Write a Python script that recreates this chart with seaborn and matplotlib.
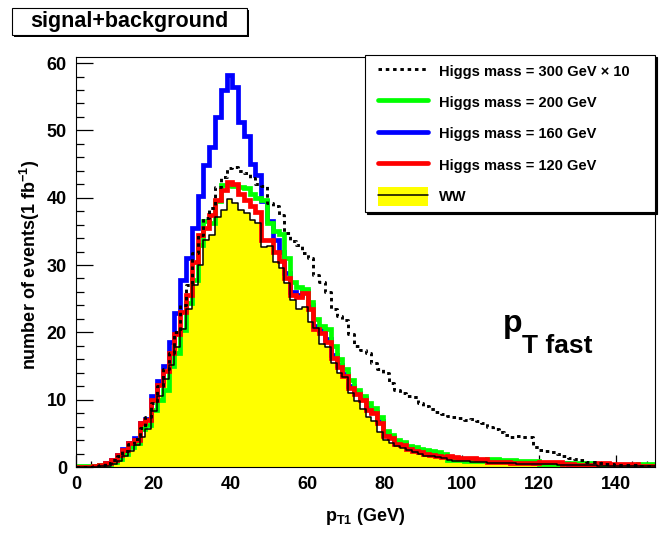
import numpy as np
import pandas as pd
import matplotlib
matplotlib.use('Agg')
import matplotlib.pyplot as plt
import seaborn as sns
from matplotlib.lines import Line2D
from matplotlib.patches import Patch, Rectangle
from matplotlib.legend_handler import HandlerLine2D, HandlerPatch, HandlerTuple
from matplotlib.ticker import MultipleLocator

# ---- data: 100 bins of 1.5 GeV between 0 and 150 GeV
edges = np.linspace(0, 150, 101)
centers = 0.5 * (edges[:-1] + edges[1:])

ww = [0, 0, 0, 0.05, 0.1, 0.2, 0.5, 0.9, 1.6, 2.4,
      3.2, 4.5, 5.6, 8.3, 10.5, 13.0, 15.2, 17.8, 20.5, 23.5,
      27.0, 30.0, 33.7, 34.5, 37.2, 38.2, 39.8, 39.2, 38.2, 37.8,
      36.7, 36.2, 32.7, 32.8, 30.5, 29.5, 27.3, 24.8, 23.5, 23.8,
      21.6, 20.6, 18.3, 17.8, 15.5, 14.0, 13.3, 11.0, 9.8, 8.6,
      7.4, 6.8, 5.2, 4.0, 3.6, 3.1, 2.8, 2.5, 2.3, 2.0,
      1.7, 1.6, 1.5, 1.3, 1.0, 0.95, 0.9, 0.85, 0.8, 0.75,
      0.7, 0.65, 0.6, 0.6, 0.55, 0.55, 0.5, 0.5, 0.45, 0.45,
      0.4, 0.4, 0.38, 0.36, 0.34, 0.32, 0.3, 0.28, 0.26, 0.25,
      0.2, 0.2, 0.2, 0.18, 0.17, 0.16, 0.15, 0.14, 0.13, 0.12]

h120 = [0, 0, 0.05, 0.15, 0.3, 0.6, 1.0, 1.8, 2.5, 3.5,
        4.0, 6.5, 7.0, 10.0, 12.2, 14.2, 17.0, 19.8, 23.0, 25.5,
        30.5, 34.5, 35.5, 37.5, 39.6, 41.2, 42.4, 42.0, 40.6, 39.7,
        38.7, 37.9, 33.7, 33.7, 32.0, 30.6, 28.0, 25.5, 25.3, 25.8,
        23.5, 20.5, 19.9, 18.5, 16.2, 14.9, 13.5, 11.8, 10.8, 10.0,
        8.5, 8.0, 6.6, 4.6, 4.3, 3.4, 3.3, 2.7, 2.4, 2.2,
        2.0, 1.8, 1.6, 1.5, 1.6, 1.5, 1.4, 1.35, 1.3, 1.25,
        1.2, 0.8, 0.75, 0.75, 0.7, 0.65, 0.6, 0.6, 0.55, 0.55,
        0.8, 0.75, 0.75, 0.7, 0.4, 0.4, 0.35, 0.35, 0.3, 0.3,
        0.55, 0.55, 0.5, 0.5, 0.5, 0.45, 0.45, 0.2, 0.2, 0.15]

h160 = [0, 0, 0.05, 0.15, 0.3, 0.6, 1.0, 1.8, 2.6, 3.6,
        4.3, 6.6, 7.2, 10.6, 12.7, 15.0, 18.5, 22.9, 27.8, 31.0,
        35.5, 40.3, 44.9, 47.5, 52.0, 56.0, 58.2, 56.5, 51.3, 49.2,
        45.0, 43.4, 39.5, 36.5, 33.7, 32.0, 28.8, 26.0, 25.6, 26.2,
        24.0, 21.0, 20.3, 19.0, 16.6, 15.2, 13.8, 12.0, 11.0, 10.2,
        8.8, 8.2, 6.8, 4.8, 4.4, 3.6, 3.5, 2.9, 2.6, 2.4,
        2.2, 2.0, 1.9, 1.7, 1.45, 1.35, 1.25, 1.2, 1.15, 1.1,
        1.05, 1.0, 0.95, 0.9, 0.85, 0.8, 0.75, 0.7, 0.7, 0.65,
        0.65, 0.6, 0.6, 0.55, 0.55, 0.5, 0.5, 0.45, 0.45, 0.4,
        0.4, 0.4, 0.35, 0.35, 0.35, 0.3, 0.3, 0.3, 0.3, 0.25]

h200 = [0.1, 0.1, 0.1, 0.15, 0.3, 0.45, 0.8, 1.2, 2.0, 3.0,
        3.5, 5.6, 6.3, 8.5, 10.0, 11.5, 15.0, 17.0, 20.3, 24.4,
        27.8, 33.0, 36.6, 36.2, 39.5, 41.9, 41.9, 41.7, 41.6, 41.4,
        40.5, 40.0, 39.6, 36.2, 35.0, 34.6, 31.0, 27.5, 26.8, 26.5,
        24.5, 22.0, 20.9, 20.5, 17.9, 16.0, 14.5, 12.9, 11.4, 10.5,
        9.5, 8.8, 7.5, 5.4, 4.8, 4.0, 3.7, 3.1, 2.9, 2.7,
        2.5, 2.4, 2.2, 2.0, 1.1, 1.05, 1.0, 0.95, 0.9, 0.85,
        0.85, 1.2, 1.15, 1.1, 1.05, 1.0, 0.95, 0.9, 0.9, 0.85,
        0.5, 0.5, 0.45, 0.45, 0.65, 0.6, 0.6, 0.55, 0.55, 0.5,
        0.25, 0.25, 0.25, 0.2, 0.2, 0.2, 0.2, 0.45, 0.45, 0.4]

h300x10 = [0, 0, 0.05, 0.1, 0.3, 0.6, 1.0, 1.6, 2.4, 3.4,
           4.2, 5.8, 7.5, 9.5, 12.0, 14.5, 17.0, 20.0, 24.0, 27.0,
           31.8, 34.5, 37.0, 38.5, 41.6, 43.1, 44.4, 44.6, 44.0, 43.6,
           42.9, 42.0, 41.8, 39.2, 38.7, 37.5, 34.7, 33.5, 33.0, 31.8,
           31.0, 28.5, 27.5, 26.0, 23.4, 22.5, 21.8, 19.8, 17.9, 17.4,
           17.0, 15.4, 14.6, 14.0, 12.5, 11.5, 11.0, 10.6, 10.4, 9.5,
           9.0, 8.6, 8.2, 7.9, 7.6, 7.4, 7.3, 7.0, 7.1, 6.8,
           6.5, 6.0, 5.6, 5.2, 4.8, 4.5, 4.6, 4.4, 4.5, 3.0,
           2.5, 2.4, 2.2, 2.0, 1.6, 1.3, 1.2, 1.0, 0.8, 0.8,
           0.6, 0.5, 0.4, 0.35, 0.3, 0.3, 0.25, 0.2, 0.2, 0.15]

labels = ['Higgs mass = 300 GeV \u00d7 10', 'Higgs mass = 200 GeV',
          'Higgs mass = 160 GeV', 'Higgs mass = 120 GeV', 'WW']

df = pd.DataFrame({'pt': centers, 'ww': ww, 'h120': h120, 'h160': h160,
                   'h200': h200, 'h300': h300x10})

# ---- style (ROOT look)
sns.set_style('ticks')
plt.rcParams.update({
    'font.family': ['Liberation Sans', 'DejaVu Sans'],
    'font.weight': 'bold',
    'mathtext.fontset': 'custom',
    'mathtext.rm': 'Liberation Sans:bold',
    'mathtext.bf': 'Liberation Sans:bold',
    'mathtext.it': 'Liberation Sans:bold',
    'mathtext.default': 'bf',
    'axes.unicode_minus': False,
    'axes.edgecolor': 'black', 'axes.labelcolor': 'black',
    'xtick.color': 'black', 'ytick.color': 'black', 'text.color': 'black',
})

W, H = 662, 535
YELLOW, GREEN, BLUE, RED = '#ffff00', '#00ff00', '#0000ff', '#ff0000'
LW = 3.4
DOT = (0, (1.2, 1.3))

fig = plt.figure(figsize=(W / 100, H / 100), dpi=100)
ax = fig.add_axes([76 / W, 1 - 467 / H, 579 / W, 410 / H])

bins = list(edges)
def hist(col, **kw):
    sns.histplot(data=df, x='pt', weights=col, bins=bins, element='step',
                 ax=ax, **kw)

hist('ww', fill=True, color=YELLOW, alpha=1, linewidth=0)
hist('h160', fill=False, color=BLUE, linewidth=LW, solid_joinstyle='miter')
hist('h200', fill=False, color=GREEN, linewidth=LW, solid_joinstyle='miter')
hist('h120', fill=False, color=RED, linewidth=LW, solid_joinstyle='miter')
hist('ww', fill=False, color='black', linewidth=1.1)
hist('h300', fill=False, color='black', linewidth=2.1, linestyle=DOT)

ax.set_xlim(0, 150)
ax.set_ylim(0, 60.9)
ax.set_axisbelow(True)
for s in ax.spines.values():
    s.set_linewidth(0.8)

ax.xaxis.set_major_locator(MultipleLocator(20))
ax.xaxis.set_minor_locator(MultipleLocator(4))
ax.yaxis.set_major_locator(MultipleLocator(10))
ax.yaxis.set_minor_locator(MultipleLocator(2))
ax.tick_params(which='both', direction='in', top=False, right=False, width=0.9)
ax.tick_params(axis='x', which='major', length=8.6, pad=6.5, labelsize=13)
ax.tick_params(axis='x', which='minor', length=4.3)
ax.tick_params(axis='y', which='major', length=12.2, pad=6.5, labelsize=13)
ax.tick_params(axis='y', which='minor', length=6.1)

ax.set_xlabel('p$_{T1}$ (GeV)', fontsize=13, fontweight='bold')
ax.xaxis.set_label_coords(0.5, -0.095)
ax.set_ylabel('number of events(1 fb$^{-1}$)', fontsize=13, fontweight='bold')
ax.yaxis.set_label_coords(-0.058, 0.493)


# legend
def tall_patch(legend, orig_handle, xdescent, ydescent, width, height, fontsize):
    extra = 0.1 * height
    return Rectangle((-xdescent, -ydescent - extra / 2), width, height + extra)


handles = [Line2D([], [], color='black', lw=2.1, linestyle=DOT),
           Line2D([], [], color=GREEN, lw=LW),
           Line2D([], [], color=BLUE, lw=LW),
           Line2D([], [], color=RED, lw=LW),
           (Patch(facecolor=YELLOW, edgecolor='none'),
            Line2D([], [], color='black', lw=1.1))]
hmap = {Line2D: HandlerLine2D(xpad=0.4),
        Patch: HandlerPatch(patch_func=tall_patch),
        tuple: HandlerTuple(xpad=0.4)}
leg = ax.legend(handles, labels, handler_map=hmap, loc='upper left',
                bbox_to_anchor=(365 / W, 1 - 212 / H, 290 / W, 157 / H),
                bbox_transform=fig.transFigure, mode='expand', borderaxespad=0,
                fontsize=10.5, handlelength=3.8, handleheight=1.4,
                handletextpad=0.77, borderpad=0.5, labelspacing=1.0,
                fancybox=False, framealpha=1, edgecolor='black',
                shadow={'color': 'black', 'alpha': 1, 'ox': 1.5, 'oy': -1.5})
leg.get_frame().set_linewidth(0.8)

# p_T fast annotation
fig.text(503 / W, 1 - 332 / H, 'p', fontsize=23, fontweight='bold',
         ha='left', va='baseline')
fig.text(522 / W, 1 - 353 / H, 'T fast', fontsize=19, fontweight='bold',
         ha='left', va='baseline')

# title pave with shadow
fig.add_artist(Rectangle((13.5 / W, 1 - 37 / H), 235 / W, 26.7 / H,
                         transform=fig.transFigure, facecolor='black',
                         edgecolor='none'))
fig.add_artist(Rectangle((11.7 / W, 1 - 35 / H), 235 / W, 26.7 / H,
                         transform=fig.transFigure, facecolor='white',
                         edgecolor='black', linewidth=0.8))
fig.text(129 / W, 1 - 21.5 / H, 'signal+background', fontsize=15.5,
         fontweight='bold', ha='center', va='center')

fig.savefig('out.png', dpi=100)
